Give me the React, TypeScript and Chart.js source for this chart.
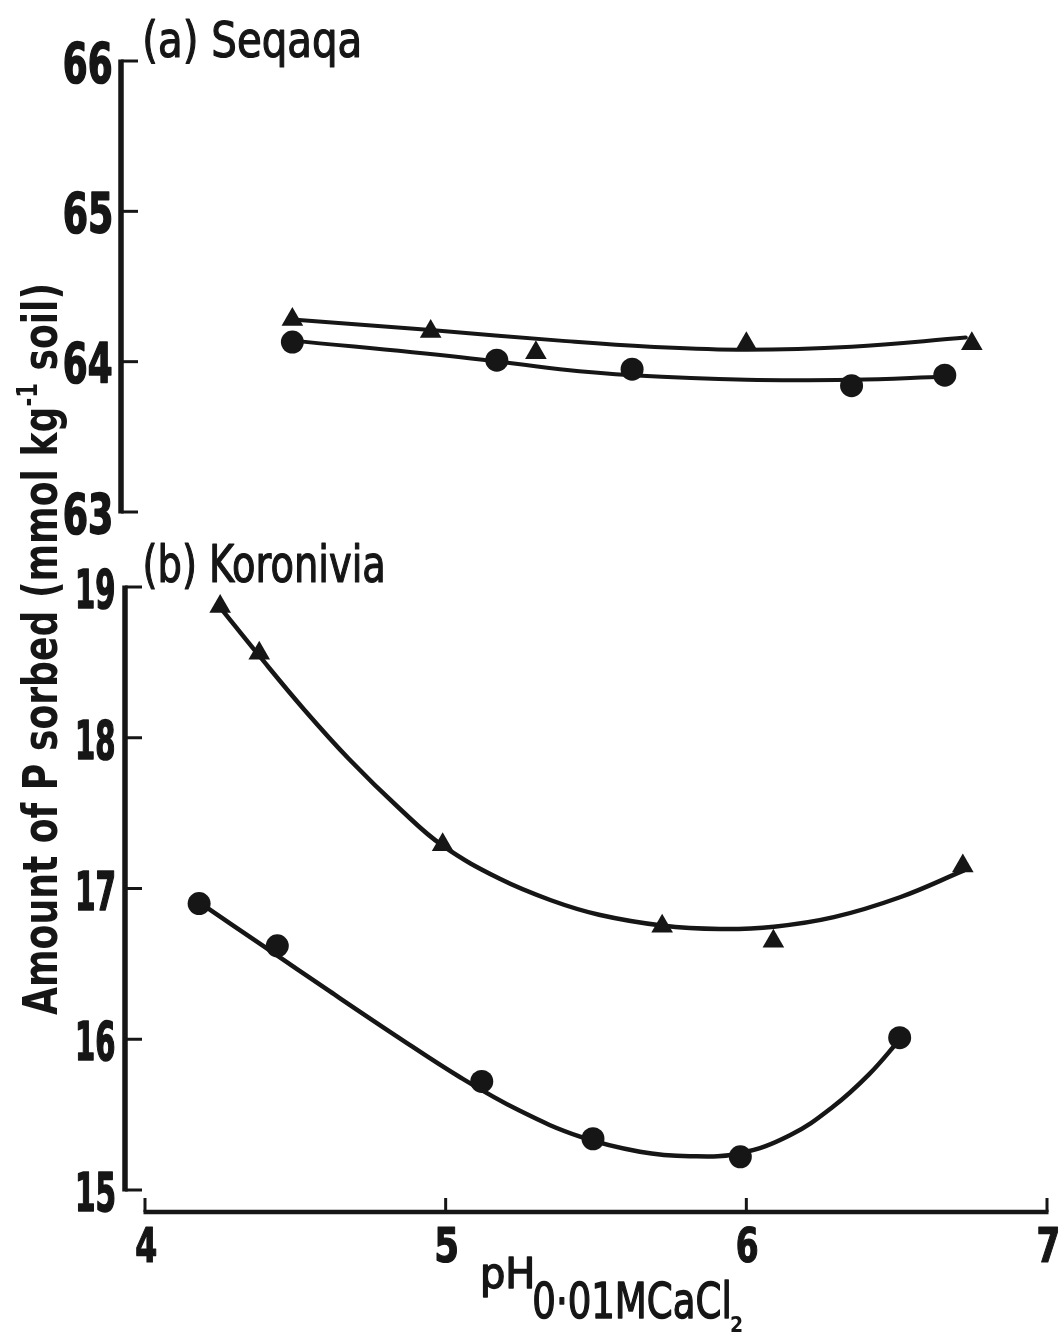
import React, { useEffect, useRef } from "react";
import { Chart, registerables } from "chart.js";

Chart.register(...registerables);

const FONT = '"Liberation Sans Narrow", "DejaVu Sans Condensed", "Noto Sans", sans-serif';
const INK = "#161616";

// x axis: pH measured in 0.01 M CaCl2
const PH_TICKS = [4, 5, 6, 7];
const PH_MAX = 7;

// (a) Seqaqa
const SEQAQA_TICKS = [63, 64, 65, 66];
const SEQAQA_TRI_PH = [4.49, 4.95, 5.3, 6.0, 6.75];
const SEQAQA_TRI_P = [64.28, 64.2, 64.06, 64.12, 64.12];
const SEQAQA_CIR_PH = [4.49, 5.17, 5.62, 6.35, 6.66];
const SEQAQA_CIR_P = [64.13, 64.01, 63.95, 63.84, 63.91];
const SEQAQA_TRI_FIT_PH = [4.49, 4.95, 5.38, 5.68, 6.0, 6.35, 6.73];
const SEQAQA_TRI_FIT_P = [64.28, 64.21, 64.14, 64.1, 64.08, 64.1, 64.16];
const SEQAQA_CIR_FIT_PH = [4.49, 5.05, 5.38, 5.62, 6.0, 6.35, 6.66];
const SEQAQA_CIR_FIT_P = [64.14, 64.03, 63.95, 63.91, 63.88, 63.88, 63.9];

// (b) Koronivia
const KORONIVIA_TICKS = [15, 16, 17, 18, 19];
const KORONIVIA_TRI_PH = [4.25, 4.38, 4.99, 5.72, 6.09, 6.72];
const KORONIVIA_TRI_P = [18.87, 18.56, 17.29, 16.75, 16.65, 17.15];
const KORONIVIA_CIR_PH = [4.18, 4.44, 5.12, 5.49, 5.98, 6.51];
const KORONIVIA_CIR_P = [16.9, 16.62, 15.72, 15.34, 15.22, 16.01];
const KORONIVIA_TRI_FIT_PH = [4.249, 4.379, 4.529, 4.68, 4.85, 4.99, 5.18, 5.35, 5.51, 5.719, 5.912, 6.092, 6.291, 6.511, 6.724];
const KORONIVIA_TRI_FIT_P = [18.867, 18.546, 18.188, 17.856, 17.524, 17.284, 17.064, 16.922, 16.826, 16.755, 16.732, 16.747, 16.81, 16.942, 17.12];
const KORONIVIA_CIR_FIT_PH = [4.183, 4.399, 4.615, 4.831, 5.048, 5.247, 5.447, 5.646, 5.812, 5.979, 6.145, 6.288, 6.408, 6.511];
const KORONIVIA_CIR_FIT_P = [16.904, 16.611, 16.317, 16.028, 15.748, 15.525, 15.354, 15.254, 15.224, 15.244, 15.363, 15.552, 15.767, 16.0];

type XY = { x: number; y: number };
const pairs = (xs: number[], ys: number[]): XY[] => xs.map((x, i) => ({ x, y: ys[i] }));

function markers(xs: number[], ys: number[], style: string, radius: number) {
  return {
    data: pairs(xs, ys),
    showLine: false,
    pointStyle: style,
    pointRadius: radius,
    pointBackgroundColor: INK,
    pointBorderColor: INK,
    pointBorderWidth: 0,
    order: 0,
    clip: false,
  };
}

function curve(xs: number[], ys: number[], width: number) {
  return {
    data: pairs(xs, ys),
    showLine: true,
    borderColor: INK,
    borderWidth: width,
    borderCapStyle: "round",
    borderJoinStyle: "round",
    pointRadius: 0,
    tension: 0.4,
    fill: false,
    order: 1,
    clip: false,
  };
}

type InkOpts = {
  left?: number;
  right?: number;
  center?: number;
  baseline: number;
  width: number;
  cap: number;
  weight?: string;
  thicken?: number;
};

// lettering sized by cap height and squeezed to a given ink width
function inkText(ctx: CanvasRenderingContext2D, text: string, o: InkOpts) {
  const size = o.cap / 0.716;
  ctx.save();
  ctx.font = `${o.weight ?? "normal"} ${size}px ${FONT}`;
  ctx.textAlign = "left";
  ctx.textBaseline = "alphabetic";
  const m = ctx.measureText(text);
  const inkW = m.actualBoundingBoxLeft + m.actualBoundingBoxRight;
  const sx = o.width / inkW;
  const left =
    o.left !== undefined ? o.left : o.right !== undefined ? o.right - o.width : (o.center as number) - o.width / 2;
  ctx.translate(left + m.actualBoundingBoxLeft * sx, o.baseline);
  ctx.scale(sx, 1);
  ctx.fillStyle = INK;
  ctx.fillText(text, 0, 0);
  if (o.thicken) {
    ctx.strokeStyle = INK;
    ctx.lineJoin = "round";
    ctx.lineWidth = o.thicken;
    ctx.strokeText(text, 0, 0);
  }
  ctx.restore();
}

// vertical axis line with inward tick marks and its numbers
function drawYAxis(chart: any, ticks: number[], label: { right: number; width: number; cap: number; drop: number }) {
  const { ctx, chartArea } = chart;
  const ys = chart.scales.y;
  const x = chartArea.left;
  const top = ys.getPixelForValue(ys.max);
  const bottom = ys.getPixelForValue(ys.min);
  ctx.save();
  ctx.strokeStyle = INK;
  ctx.lineWidth = 5.5;
  ctx.beginPath();
  ctx.moveTo(x, top - 1.5);
  ctx.lineTo(x, bottom + 1.5);
  ctx.stroke();
  ctx.lineWidth = 3;
  for (const t of ticks) {
    const py = ys.getPixelForValue(t);
    ctx.beginPath();
    ctx.moveTo(x, py);
    ctx.lineTo(x + 17, py);
    ctx.stroke();
    inkText(ctx, String(t), {
      right: label.right,
      baseline: py + label.drop + label.cap / 2,
      width: label.width,
      cap: label.cap,
      weight: "bold",
      thicken: 1.6,
    });
  }
  ctx.restore();
}

// horizontal pH axis drawn a little below the lower panel, ticks pointing up
function drawXAxis(chart: any, ticks: number[], drop: number) {
  const { ctx, chartArea } = chart;
  const xs = chart.scales.x;
  const y = chartArea.bottom + drop;
  const x0 = xs.getPixelForValue(ticks[0]);
  const x1 = xs.getPixelForValue(ticks[ticks.length - 1]);
  ctx.save();
  ctx.strokeStyle = INK;
  ctx.lineWidth = 4.5;
  ctx.beginPath();
  ctx.moveTo(x0 - 1.5, y);
  ctx.lineTo(x1 + 1.5, y);
  ctx.stroke();
  ctx.lineWidth = 3;
  for (const t of ticks) {
    const px = xs.getPixelForValue(t);
    ctx.beginPath();
    ctx.moveTo(px, y);
    ctx.lineTo(px, y - 14);
    ctx.stroke();
    inkText(ctx, String(t), { center: px + 1, baseline: y + 50, width: 20, cap: 34, weight: "bold", thicken: 1.2 });
  }
  ctx.restore();
}

// rotated y title with the kg^-1 superscript
function drawYTitle(ctx: CanvasRenderingContext2D, baseX: number, startY: number, length: number) {
  const size = 48;
  const supSize = 28;
  const parts = [
    { t: "Amount of P sorbed (mmol kg", s: size, dy: 0 },
    { t: "-1", s: supSize, dy: -20 },
    { t: " soil)", s: size, dy: 0 },
  ];
  ctx.save();
  let total = 0;
  for (const p of parts) {
    ctx.font = `bold ${p.s}px ${FONT}`;
    total += ctx.measureText(p.t).width;
  }
  ctx.translate(baseX, startY);
  ctx.rotate(-Math.PI / 2);
  ctx.scale(length / total, 1);
  ctx.fillStyle = INK;
  ctx.textBaseline = "alphabetic";
  let cx = 0;
  for (const p of parts) {
    ctx.font = `bold ${p.s}px ${FONT}`;
    ctx.fillText(p.t, cx, p.dy);
    cx += ctx.measureText(p.t).width;
  }
  ctx.restore();
}

const panelOptions = (xMin: number, padding: any, yMin: number, yMax: number, yWidth: number, xHeight: number) => ({
  animation: false,
  responsive: false,
  devicePixelRatio: 1,
  events: [],
  layout: { padding },
  plugins: { legend: { display: false }, tooltip: { enabled: false } },
  scales: {
    x: {
      type: "linear",
      display: xHeight > 0,
      min: xMin,
      max: PH_MAX,
      grid: { display: false, drawTicks: false },
      border: { display: false },
      ticks: { display: false },
      afterFit: (s: any) => {
        s.height = xHeight;
        s.paddingLeft = 0;
        s.paddingRight = 0;
      },
    },
    y: {
      type: "linear",
      min: yMin,
      max: yMax,
      grid: { display: false, drawTicks: false },
      border: { display: false },
      ticks: { display: false },
      afterFit: (s: any) => {
        s.width = yWidth;
        s.paddingTop = 0;
        s.paddingBottom = 0;
      },
    },
  },
});

export default function App() {
  const topRef = useRef<HTMLCanvasElement>(null);
  const bottomRef = useRef<HTMLCanvasElement>(null);

  useEffect(() => {
    document.body.style.margin = "0";
    document.body.style.background = "#ffffff";

    const seqaqa = new Chart(topRef.current as HTMLCanvasElement, {
      type: "line",
      data: {
        datasets: [
          markers(SEQAQA_TRI_PH, SEQAQA_TRI_P, "triangle", 12.5),
          markers(SEQAQA_CIR_PH, SEQAQA_CIR_P, "circle", 11.5),
          curve(SEQAQA_TRI_FIT_PH, SEQAQA_TRI_FIT_P, 4),
          curve(SEQAQA_CIR_FIT_PH, SEQAQA_CIR_FIT_P, 4),
        ] as any,
      },
      options: panelOptions(3.92, { top: 61, right: 14, bottom: 33, left: 0 }, 63, 66, 121, 0) as any,
      plugins: [
        {
          id: "seqaqaFrame",
          afterDraw(chart: any) {
            drawYAxis(chart, SEQAQA_TICKS, { right: 111, width: 46, cap: 39, drop: 1 });
            inkText(chart.ctx, "(a) Seqaqa", { left: 145, baseline: 57, width: 214, cap: 36, thicken: 1.2 });
          },
        },
      ],
    });

    const koronivia = new Chart(bottomRef.current as HTMLCanvasElement, {
      type: "line",
      data: {
        datasets: [
          markers(KORONIVIA_TRI_PH, KORONIVIA_TRI_P, "triangle", 12.5),
          markers(KORONIVIA_CIR_PH, KORONIVIA_CIR_P, "circle", 11.5),
          curve(KORONIVIA_TRI_FIT_PH, KORONIVIA_TRI_FIT_P, 4.5),
          curve(KORONIVIA_CIR_FIT_PH, KORONIVIA_CIR_FIT_P, 4.5),
        ] as any,
      },
      options: panelOptions(3.9335, { top: 587, right: 14, bottom: 0, left: 0 }, 15, 19, 125, 143) as any,
      plugins: [
        {
          id: "koroniviaFrame",
          afterDraw(chart: any) {
            const ctx = chart.ctx;
            drawYAxis(chart, KORONIVIA_TICKS, { right: 114, width: 36, cap: 38, drop: 2 });
            drawXAxis(chart, PH_TICKS, 22);
            inkText(ctx, "(b) Koronivia", { left: 145, baseline: 582, width: 238, cap: 37, thicken: 1.2 });
            inkText(ctx, "pH", { left: 483, baseline: 1288, width: 49, cap: 31, thicken: 1.4 });
            inkText(ctx, "0·01MCaCl", { left: 534, baseline: 1318, width: 195, cap: 35, thicken: 1.4 });
            inkText(ctx, "2", { left: 731, baseline: 1332, width: 11, cap: 15, weight: "bold" });
            drawYTitle(ctx, 57, 1015, 732);
          },
        },
      ],
    });

    return () => {
      seqaqa.destroy();
      koronivia.destroy();
    };
  }, []);

  return (
    <div style={{ position: "relative", width: 1061, height: 1333, background: "#ffffff" }}>
      <canvas ref={bottomRef} width={1061} height={1333} style={{ position: "absolute", left: 0, top: 0 }} />
      <canvas ref={topRef} width={1061} height={545} style={{ position: "absolute", left: 0, top: 0 }} />
    </div>
  );
}
